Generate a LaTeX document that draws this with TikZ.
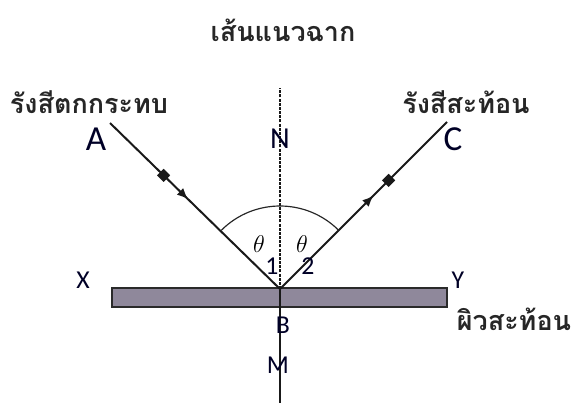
\documentclass[tikz,border=0pt]{standalone}
\usepackage{fontspec}
\setsansfont{Carlito}
\newfontfamily\thaifont[Script=Thai]{Loma}
\usetikzlibrary{arrows.meta,decorations.markings}

\begin{document}
\begin{tikzpicture}[x=0.3mm, y=-0.3mm, font=\sffamily,
  ray/.style={line width=1.7pt, black!90},
  normal/.style={line width=1.6pt, black!90},
  thai/.style={font=\thaifont\bfseries\fontsize{23}{26}\selectfont, text=black!85},
  pt/.style={font=\sffamily\fontsize{22}{26}\selectfont, text=black!85!blue, inner sep=0pt},
  big/.style={font=\sffamily\fontsize{30}{34}\selectfont, text=black!85!blue, inner sep=0pt},
  ang/.style={font=\fontsize{22}{24}\selectfont, inner sep=0pt},
  incmarks/.style={postaction={decorate}, decoration={markings,
    mark=at position 0.335 with {\arrow{Square[length=2.8mm,width=2.8mm]}},
    mark=at position 0.46 with {\arrow{Latex[length=3.4mm,width=2.8mm]}}}},
  refmarks/.style={postaction={decorate}, decoration={markings,
    mark=at position 0.56 with {\arrow{Latex[length=3.4mm,width=2.8mm]}},
    mark=at position 0.67 with {\arrow{Square[length=2.8mm,width=2.8mm]}}}},
]
\definecolor{mirrorF}{HTML}{8F889B}\definecolor{mirrorS}{HTML}{2A2A2A}
\useasboundingbox (0,0) rectangle (573,405);
% points
\coordinate (A) at (110,123);
\coordinate (B) at (280,289);
\coordinate (C) at (447,122);
\coordinate (Ntop) at (280,88);
\coordinate (Mbot) at (280,403);
% ---- mirror ----
\node[draw=mirrorS, fill=mirrorF, line width=2pt, minimum width=335*0.3mm, minimum height=19*0.3mm, inner sep=0pt] (mirror) at (279.5,297.5) {};
% ---- normal + rays ----
\draw[normal, line width=1.8pt, dash pattern=on 0.9mm off 0.35mm] (B) -- (Ntop);
\draw[normal] (B) -- (Mbot);
\draw[ray, incmarks] (A) -- (B);
\draw[ray, refmarks] (B) -- (C);
\draw[line width=1pt, black!85] ([shift={(225:83)}]B) arc[start angle=135, end angle=45, radius=83*0.3mm];
% ---- labels ----
\node[thai] (tNormal) at (283,30) {เส้นแนวฉาก};
\node[thai] (tInc) at (89,102) {รังสีตกกระทบ};
\node[thai] (tRef) at (466,102) {รังสีสะท้อน};
\node[thai] (tSurf) at (514,319) {ผิวสะท้อน};
\node[big] (lA) at (96,139) {A};
\node[big] (lC) at (453,139) {C};
\node[pt, font=\sffamily\fontsize{26}{30}\selectfont] (lN) at (280,139) {N};
\node[pt] (lX) at (83,280) {X};
\node[pt] (lY) at (458,280) {Y};
\node[pt] (lB) at (283,325) {B};
\node[pt] (lM) at (278,365) {M};
\node[pt] (l1) at (272,266) {1};
\node[pt] (l2) at (308,266) {2};
\node[ang] (th1) at (259,244) {$\theta$};
\node[ang] (th2) at (302,244) {$\theta$};
\end{tikzpicture}
\end{document}
